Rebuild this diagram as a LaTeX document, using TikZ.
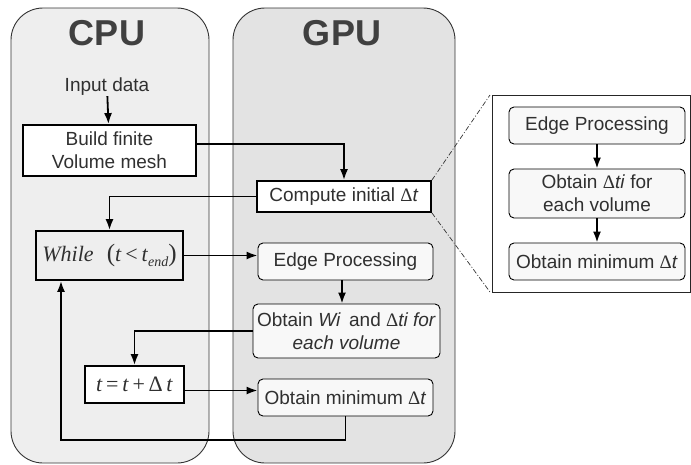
\documentclass[tikz,border=0pt]{standalone}
\usepackage{fontspec}
\setmainfont{Liberation Sans}
\newfontfamily\timesf{Liberation Serif}
\usepackage{tikz}
\usetikzlibrary{arrows.meta}
\definecolor{cpugray}{HTML}{EEEEEE}
\definecolor{gpugray}{HTML}{E3E3E3}
\definecolor{boxfill}{HTML}{F8F8F8}
\definecolor{txtgray}{HTML}{303030}
\newcommand{\dlt}{{\timesf Δ}}
\tikzset{% styles of the flow chart
        panel/.style={draw=black!80, line width=0.9pt, rounded corners=32pt},
        title/.style={text=black!75, font=\fontsize{36}{40}\selectfont\bfseries},
        plain/.style={text=txtgray, font=\fontsize{19}{23}\selectfont, inner sep=0pt, align=center},
        sbox/.style={plain, draw=black, line width=1.8pt, fill=white},
        rbox/.style={plain, draw=black, line width=0.9pt, rounded corners=5pt, fill=boxfill},
        flow/.style={line width=1.8pt, -{Latex[length=11pt,width=8pt]}},
        zoomline/.style={black!80, line width=0.7pt, dash pattern=on 5pt off 2pt on 1pt off 2pt}
        }

\begin{document}
\begin{tikzpicture}[x=1pt,y=-1pt]
\useasboundingbox (0,0) rectangle (691,464);
% the two processors
\draw[panel, fill=cpugray] (11,8) rectangle (209,463);
\draw[panel, fill=gpugray] (233,8) rectangle (455,463);
\node[title] (cpu) at (107,33) {CPU};
\node[title] (gpu) at (342,33) {GPU};

% CPU side
\node[plain] (input) at (107,87) {Input data};
\node[sbox, minimum width=173pt, minimum height=51pt] (build) at (109.5,150.5) {Build finite\\Volume mesh};
\node[sbox, fill=cpugray, minimum width=147pt, minimum height=49pt] (while) at (109.5,255.5)
     {\timesf\fontsize{22}{24}\selectfont\textit{While}\hspace{0.6em}{\fontsize{25}{25}\selectfont(}\textit{t}\,<\,\textit{t}\raisebox{-0.5ex}{\fontsize{14}{14}\selectfont\textit{end}}{\fontsize{25}{25}\selectfont)}};
\node[sbox, minimum width=99pt, minimum height=37pt] (tbox) at (134.5,384.5)
     {\timesf\fontsize{22}{24}\selectfont\textit{t}\,=\,\textit{t}\,+\,Δ\,\textit{t}};

% GPU side
\node[sbox, minimum width=174pt, minimum height=31pt] (compute) at (344,196.5) {Compute initial \dlt\textit{t}};
\node[rbox, minimum width=175pt, minimum height=37pt] (edge) at (345.5,261.5) {Edge Processing};
\node[rbox, minimum width=187pt, minimum height=54pt] (obtainw) at (346.5,331)
     {Obtain \textit{Wi}\, and \dlt\textit{ti for}\\\textit{each volume}};
\node[rbox, minimum width=175pt, minimum height=37pt] (obtainmin) at (345.5,397.5) {Obtain minimum \dlt\textit{t}};

% detail of compute initial dt
\draw[line width=0.9pt, draw=black!85, fill=white] (492,95) rectangle (690.5,292);
\coordinate (inNW) at (490,95);
\coordinate (inSW) at (490,292);
\node[rbox, minimum width=176pt, minimum height=37pt] (in1) at (597,125.5) {Edge Processing};
\node[rbox, minimum width=176pt, minimum height=49pt] (in2) at (597,193.5) {Obtain \dlt\textit{ti} for\\each volume};
\node[rbox, minimum width=176pt, minimum height=37pt] (in3) at (597,261.5) {Obtain minimum \dlt\textit{t}};
\draw[zoomline] (compute.north east) -- (inNW);
\draw[zoomline] (compute.south east) -- (inSW);
\draw[flow] (in1) -- (in2);
\draw[flow] (in2) -- (in3);

% connectors
\coordinate (loop) at (61,440);
\draw[flow] (input) -- (build);
\draw[flow] ([yshift=6.5pt]build.east) -| (compute.north);
\draw[flow] (compute.west) -| (while.north);
\draw[flow] (while.east) -- (while.east -| edge.west);
\draw[flow] (edge.south -| 342,0) -- (obtainw.north -| 342,0);
\draw[flow] (obtainw.west) -| (tbox.north);
\draw[flow] ([yshift=-6pt]tbox.east) -- ([yshift=-6pt]tbox.east -| obtainmin.west);
\draw[flow] (obtainmin.south) |- (loop) -- (loop |- while.south);
\end{tikzpicture}
\end{document}
